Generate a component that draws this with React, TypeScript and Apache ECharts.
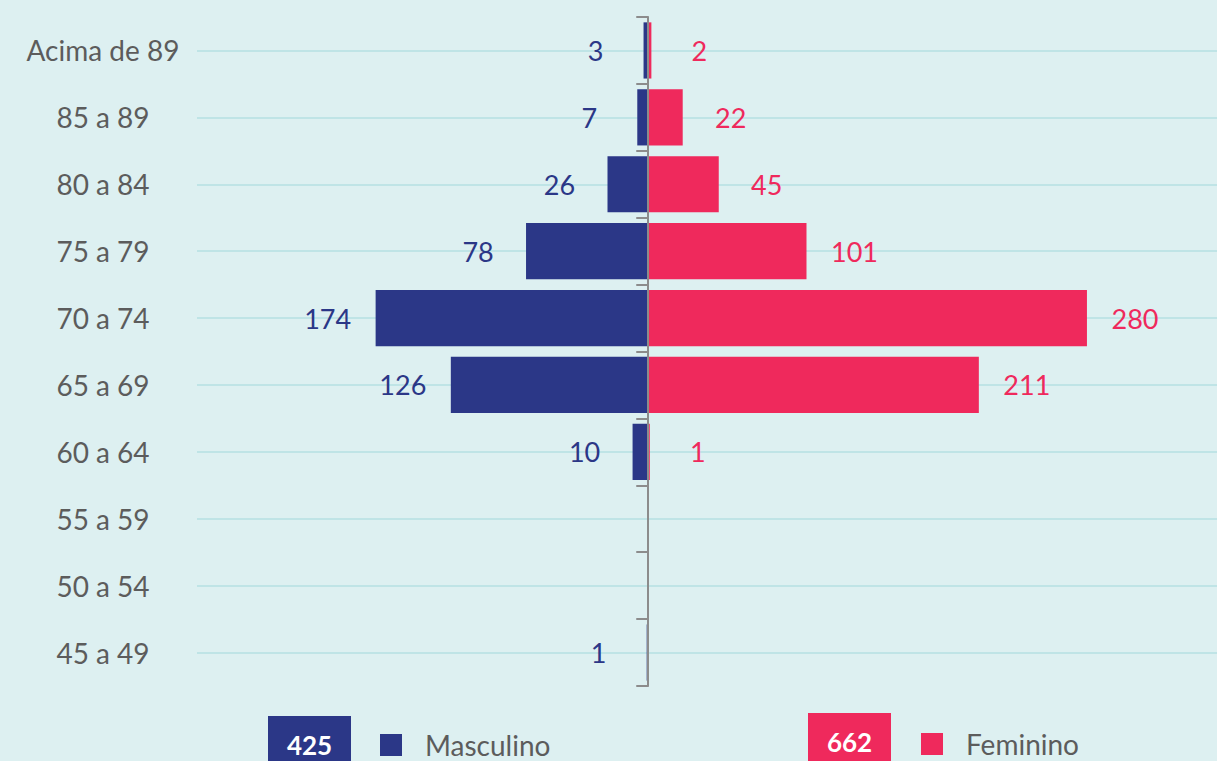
import React, { useEffect, useRef } from "react";
import * as echarts from "echarts";

const categories = ["Acima de 89", "85 a 89", "80 a 84", "75 a 79", "70 a 74", "65 a 69", "60 a 64", "55 a 59", "50 a 54", "45 a 49"];
const maleValues = [3, 7, 26, 78, 174, 126, 10, 0, 0, 1];
const femaleValues = [2, 22, 45, 101, 280, 211, 1, 0, 0, 0];
const seriesNames = ["Masculino", "Feminino"];

const NAVY = "#2b3787";
const PINK = "#ef295c";
const BG = "#ddf0f1";
const GRIDLINE = "#bfe4e6";
const TEXT = "#5c5c5c";
const FONT = "Lato, 'Open Sans', sans-serif";

export default function App() {
  const ref = useRef<HTMLDivElement>(null);
  useEffect(() => {
    if (!ref.current) return;
    const chart = echarts.init(ref.current, null, { renderer: "svg" });
    const maleTotal = maleValues.reduce((a, b) => a + b, 0);
    const femaleTotal = femaleValues.reduce((a, b) => a + b, 0);
    const labelFmt = (p: any) => (p.value === 0 ? "" : String(Math.abs(p.value)));
    const legendText = { fontSize: 28, color: TEXT, lineHeight: 24, padding: [0, 0, 0, 18], fontFamily: FONT };
    chart.setOption({
      animation: false,
      backgroundColor: BG,
      textStyle: { fontFamily: FONT },
      grid: { left: 197, right: 0, top: 17, bottom: 75 },
      xAxis: { type: "value", min: -288, max: 363, show: false },
      yAxis: [
        {
          type: "category",
          data: categories,
          inverse: true,
          z: 20,
          axisLine: { show: true, onZero: true, lineStyle: { color: "#8c8c8c", width: 2 } },
          axisTick: { show: true, length: 12, lineStyle: { color: "#8c8c8c", width: 2 } },
          axisLabel: { show: false },
          splitLine: { show: false },
        },
        {
          type: "category",
          data: categories,
          inverse: true,
          position: "left",
          axisLine: { show: false, onZero: false },
          axisTick: { show: false },
          axisLabel: { show: true, margin: 94, align: "center", fontSize: 28, color: TEXT, fontFamily: FONT },
          splitLine: { show: false },
        },
      ],
      legend: [
        {
          data: [seriesNames[0]],
          left: 380,
          top: 731,
          padding: 0,
          itemWidth: 22,
          itemHeight: 22,
          icon: "rect",
          textStyle: legendText,
        },
        {
          data: [seriesNames[1]],
          left: 921,
          top: 730,
          padding: 0,
          itemWidth: 22,
          itemHeight: 22,
          icon: "rect",
          textStyle: legendText,
        },
      ],
      graphic: [
        { type: "rect", left: 268, top: 716, shape: { width: 83, height: 50 }, style: { fill: NAVY } },
        {
          type: "text",
          x: 309.5,
          y: 745,
          style: { text: String(maleTotal), fill: "#ffffff", fontSize: 26, fontWeight: "bold", fontFamily: FONT, align: "center", verticalAlign: "middle" },
        },
        { type: "rect", left: 808, top: 713, shape: { width: 83, height: 50 }, style: { fill: PINK } },
        {
          type: "text",
          x: 849.5,
          y: 742,
          style: { text: String(femaleTotal), fill: "#ffffff", fontSize: 26, fontWeight: "bold", fontFamily: FONT, align: "center", verticalAlign: "middle" },
        },
      ],
      series: [
        {
          name: "gridlines",
          type: "line",
          data: [],
          z: 1,
          silent: true,
          markLine: {
            silent: true,
            symbol: "none",
            label: { show: false },
            lineStyle: { color: GRIDLINE, width: 2, type: "solid" },
            data: categories.map((c) => ({ yAxis: c })),
          },
        },
        {
          name: seriesNames[0],
          type: "bar",
          stack: "total",
          z: 10,
          barCategoryGap: "16%",
          itemStyle: { color: NAVY },
          label: {
            show: true,
            position: "left",
            distance: 48,
            align: "center",
            fontSize: 27,
            color: NAVY,
            fontFamily: FONT,
            formatter: labelFmt,
          },
          data: maleValues.map((v) => -v),
        },
        {
          name: seriesNames[1],
          type: "bar",
          stack: "total",
          z: 10,
          barCategoryGap: "16%",
          itemStyle: { color: PINK },
          label: {
            show: true,
            position: "right",
            distance: 48,
            align: "center",
            fontSize: 27,
            color: PINK,
            fontFamily: FONT,
            formatter: labelFmt,
          },
          data: femaleValues,
        },
      ],
    });
    return () => chart.dispose();
  }, []);
  return <div ref={ref} style={{ position: "absolute", left: 0, top: 0, width: 1217, height: 761 }} />;
}
